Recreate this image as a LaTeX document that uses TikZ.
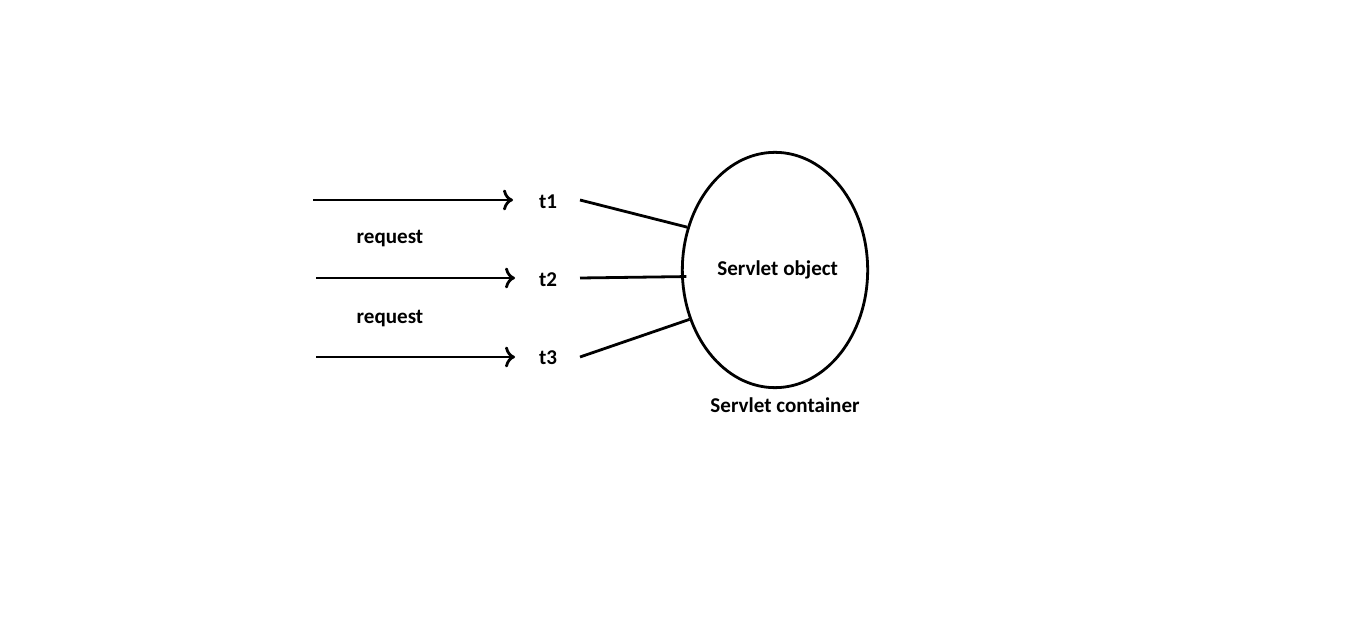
\documentclass[tikz,border=0pt]{standalone}
\usepackage{fontspec}
\setmainfont{Carlito}
\usetikzlibrary{shapes.geometric,arrows.meta}
\begin{document}
\begin{tikzpicture}[x=0.75pt, y=-0.75pt, line width=2.1pt, >={To[scale=1.2]},
    lbl/.style={font=\bfseries\fontsize{15.8}{18}\selectfont, inner sep=1pt}]
      \useasboundingbox (0,0) rectangle (1360,623);
      \node[draw, ellipse, inner sep=0pt, minimum width=139pt, minimum height=176.5pt, lbl] (obj) at (775,270) {\hspace*{4pt}Servlet object};
      \node[lbl] (cont) at (785,405) {Servlet container};
      \node[lbl] (t1) at (548,202) {t1};
      \node[lbl] (t2) at (548,280) {t2};
      \node[lbl] (t3) at (548,358) {t3};
      \node[lbl] (req1) at (390,239) {request};
      \node[lbl] (req2) at (390,319) {request};
      \coordinate (s1) at (313,200);
      \coordinate (s2) at (316,278);
      \coordinate (s3) at (316,357);
      \draw[->] (s1) -- ++(200,0);
      \draw[->] (s2) -- ++(199,0);
      \draw[->] (s3) -- ++(199,0);
      \draw ([xshift=24pt]t1.center |- s1) -- (obj.154.5);
      \draw ([xshift=24pt]t2.center |- s2) -- ([xshift=4pt]obj.184);
      \draw ([xshift=24pt]t3.center |- s3) -- (obj.210.4);
\end{tikzpicture}
\end{document}
